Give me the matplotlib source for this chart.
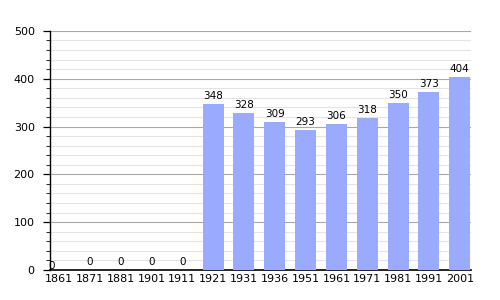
import matplotlib

matplotlib.use('Agg')
import matplotlib.pyplot as plt
from matplotlib.ticker import MultipleLocator

years = ["1861", "1871", "1881", "1901", "1911", "1921", "1931", "1936",
         "1951", "1961", "1971", "1981", "1991", "2001"]
population = [0, 0, 0, 0, 0, 348, 328, 309, 293, 306, 318, 350, 373, 404]

BAR = "#99aaff"

fig = plt.figure(figsize=(5, 3), dpi=100)
ax = fig.add_axes([0.1, 0.1, 0.841, 0.797])

x = range(len(years))
ax.bar(x, population, width=0.68, color=BAR, zorder=3)

for i, v in enumerate(population):
    # first label sits tight against the axis in the original
    off = (-5, -1) if i == 0 else (0, 2)
    ax.annotate(str(v), (i, v), xytext=off, textcoords="offset points",
                ha="center", va="bottom", fontsize=7.5, zorder=4)

ax.set_xlim(-0.29, 13.35)
ax.set_ylim(0, 500)
ax.set_xticks(list(x))
ax.set_xticklabels(years)
ax.yaxis.set_major_locator(MultipleLocator(100))
ax.yaxis.set_minor_locator(MultipleLocator(20))

ax.grid(axis="y", which="major", color="#a8a8a8", lw=0.8, zorder=1)
ax.grid(axis="y", which="minor", color="#e4e4e4", lw=0.8, zorder=0)

for s in ("top", "right"):
    ax.spines[s].set_visible(False)
ax.spines["left"].set_linewidth(1.0)
ax.spines["bottom"].set_linewidth(1.2)

ax.tick_params(axis="x", length=0, labelsize=8, pad=3)
ax.tick_params(axis="y", which="major", length=5, width=0.9, labelsize=8, pad=6)
ax.tick_params(axis="y", which="minor", length=3, width=0.6)

fig.savefig("out.png", dpi=100)
